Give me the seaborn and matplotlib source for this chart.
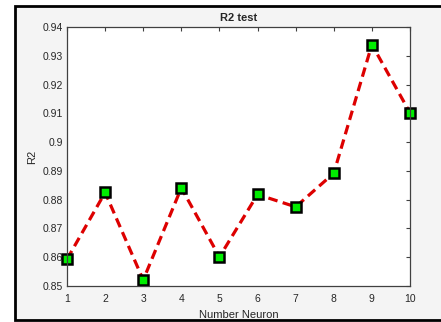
import matplotlib
matplotlib.use("Agg")
import matplotlib.pyplot as plt
from matplotlib.patches import Rectangle
import seaborn as sns
import pandas as pd

# R2 on the test set for each hidden-layer size
neurons = [1, 2, 3, 4, 5, 6, 7, 8, 9, 10]
r2_test = [0.8593, 0.8825, 0.8521, 0.8841, 0.8601, 0.8818, 0.8775, 0.8892, 0.9339, 0.9102]
y_ticks = [0.85, 0.86, 0.87, 0.88, 0.89, 0.9, 0.91, 0.92, 0.93, 0.94]
y_tick_labels = ["0.85", "0.86", "0.87", "0.88", "0.89", "0.9", "0.91", "0.92", "0.93", "0.94"]

df = pd.DataFrame({"Number Neuron": neurons, "R2": r2_test})

sns.set_style("white")
plt.rcParams["font.family"] = ["Liberation Sans", "DejaVu Sans"]

fig = plt.figure(figsize=(4.41, 3.22), dpi=100, facecolor="white")

# grey panel with a heavy black border behind the axes
panel = Rectangle((15 / 441, 2 / 322), 440 / 441, 314 / 322,
                  transform=fig.transFigure, facecolor="#f4f4f4",
                  edgecolor="black", linewidth=2.0, zorder=-10)
fig.patches.append(panel)

ax = fig.add_axes([67 / 441, 36 / 322, 343 / 441, 259 / 322])
ax.set_zorder(1)
ax.set_facecolor("white")

sns.lineplot(data=df, x="Number Neuron", y="R2", ax=ax,
             color="#dd0000", linestyle=(0, (3, 1.7)), linewidth=2.3,
             marker="s", markersize=7, markerfacecolor="#00ee00",
             markeredgecolor="black", markeredgewidth=1.8, clip_on=False)

ax.set_xlim(1, 10)
ax.set_ylim(0.85, 0.94)
ax.set_xticks(neurons)
ax.set_xticklabels([str(n) for n in neurons])
ax.set_yticks(y_ticks)
ax.set_yticklabels(y_tick_labels)

ax.tick_params(direction="in", length=3, width=0.8, color="#404040",
               labelsize=7.5, top=True, right=True, pad=3)
ax.tick_params(axis="x", pad=6)
for s in ax.spines.values():
    s.set_color("#404040")
    s.set_linewidth(0.9)
    s.set_visible(True)

ax.set_title("R2 test", fontsize=8, fontweight="bold", pad=4)
ax.set_xlabel("Number Neuron", fontsize=8, labelpad=4)
ax.set_ylabel("R2", fontsize=8, labelpad=4)

fig.savefig("out.png", dpi=100, facecolor=fig.get_facecolor())
